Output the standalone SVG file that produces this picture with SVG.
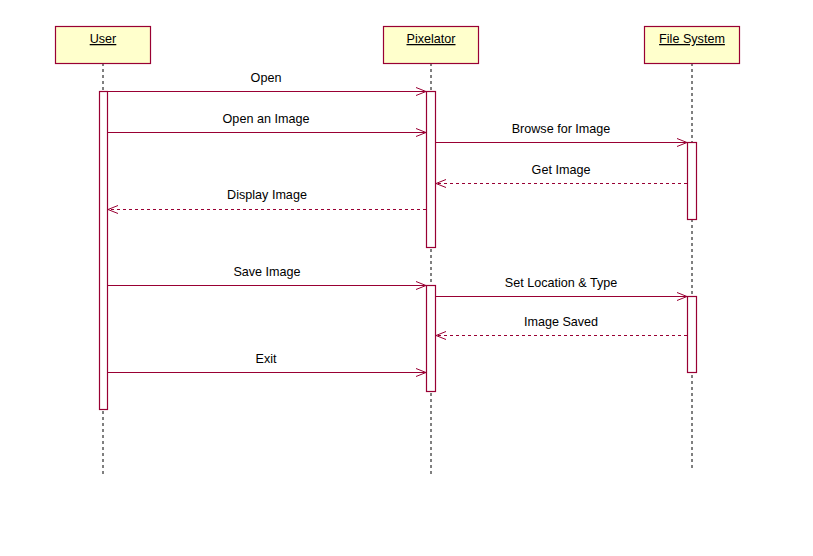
<svg xmlns="http://www.w3.org/2000/svg" width="813" height="556" viewBox="0 0 813 556">
<style>
.box{fill:#ffffcc;stroke:#990033;stroke-width:1.2}
.act{fill:#ffffff;stroke:#990033;stroke-width:1.2}
.life{stroke:#000;stroke-width:1;stroke-dasharray:3,3}
.msg{stroke:#990033;stroke-width:1;fill:none}
.ret{stroke:#990033;stroke-width:1;fill:none;stroke-dasharray:3,3}
.head{stroke:#990033;stroke-width:1;fill:none}
text{font-family:"Liberation Sans",Arial,sans-serif;font-size:12.6px;fill:#000;text-anchor:middle}
.title{text-decoration:underline}
</style>
<rect width="813" height="556" fill="#fff"/>
<g id="lifelines">
<line class="life" x1="103" y1="63" x2="103" y2="474"/>
<line class="life" x1="431" y1="63" x2="431" y2="474"/>
<line class="life" x1="692" y1="63" x2="692" y2="468"/>
</g>
<g id="user">
<rect class="box" x="55.5" y="26.5" width="95" height="37"/>
<text class="title" x="103" y="43">User</text>
<rect class="act" x="99.5" y="91.5" width="8" height="318"/>
</g>
<g id="pixelator">
<rect class="box" x="383.5" y="26.5" width="95" height="37"/>
<text class="title" x="431" y="43">Pixelator</text>
<rect class="act" x="426.5" y="91.5" width="9" height="156"/>
<rect class="act" x="426.5" y="285.5" width="9" height="106"/>
</g>
<g id="filesystem">
<rect class="box" x="644.5" y="26.5" width="95" height="37"/>
<text class="title" x="692" y="43">File System</text>
<rect class="act" x="687.5" y="142.5" width="9" height="77"/>
<rect class="act" x="687.5" y="296.5" width="9" height="76"/>
</g>
<g id="connectors">
<line class="msg" x1="107" y1="91.5" x2="426" y2="91.5"/>
<path class="head" d="M416,87.5 L426,91.5 L416,95.5"/>
<text x="266" y="82">Open</text>

<line class="msg" x1="107" y1="132.5" x2="426" y2="132.5"/>
<path class="head" d="M416,128.5 L426,132.5 L416,136.5"/>
<text x="266" y="123">Open an Image</text>

<line class="msg" x1="435" y1="142.5" x2="687" y2="142.5"/>
<path class="head" d="M677,138.5 L687,142.5 L677,146.5"/>
<text x="561" y="133">Browse for Image</text>

<line class="ret" x1="687" y1="183.5" x2="436" y2="183.5"/>
<path class="head" d="M446,179.5 L436,183.5 L446,187.5"/>
<text x="561" y="174">Get Image</text>

<line class="ret" x1="426" y1="209.5" x2="108" y2="209.5"/>
<path class="head" d="M118,205.5 L108,209.5 L118,213.5"/>
<text x="267" y="199">Display Image</text>

<line class="msg" x1="107" y1="285.5" x2="426" y2="285.5"/>
<path class="head" d="M416,281.5 L426,285.5 L416,289.5"/>
<text x="267" y="276">Save Image</text>

<line class="msg" x1="435" y1="296.5" x2="687" y2="296.5"/>
<path class="head" d="M677,292.5 L687,296.5 L677,300.5"/>
<text x="561" y="287">Set Location &amp; Type</text>

<line class="ret" x1="687" y1="335.5" x2="436" y2="335.5"/>
<path class="head" d="M446,331.5 L436,335.5 L446,339.5"/>
<text x="561" y="326">Image Saved</text>

<line class="msg" x1="107" y1="372.5" x2="426" y2="372.5"/>
<path class="head" d="M416,368.5 L426,372.5 L416,376.5"/>
<text x="266" y="363">Exit</text>
</g>
</svg>
